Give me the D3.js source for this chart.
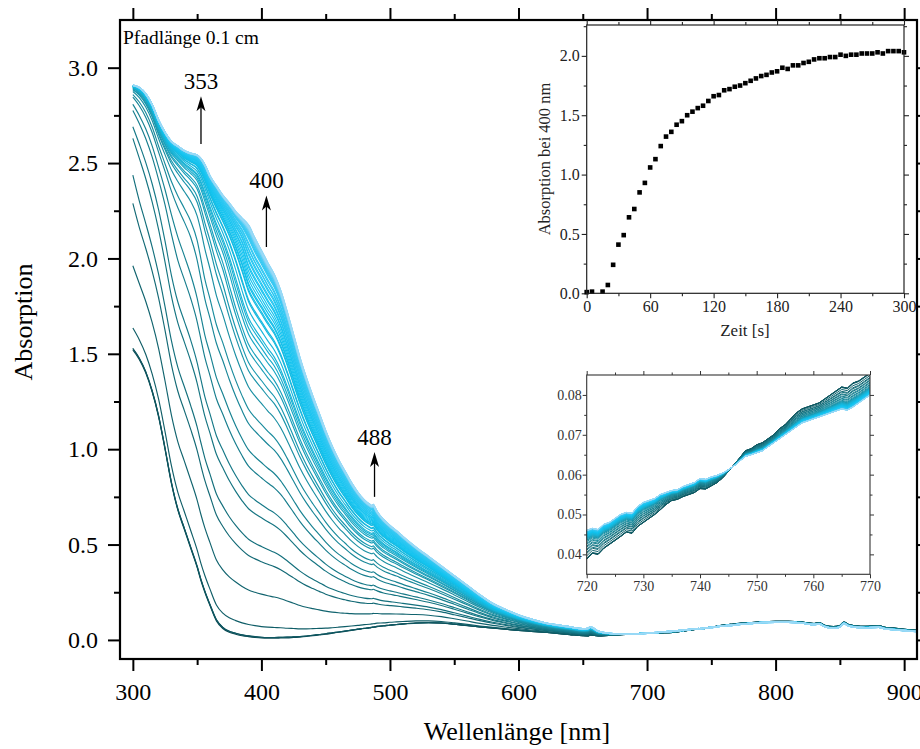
<!DOCTYPE html>
<html>
<head>
<meta charset="utf-8">
<script src="https://cdn.jsdelivr.net/npm/d3@7"></script>
<style>
  html, body { margin: 0; padding: 0; background: #fff; }
  svg { display: block; font-family: "Liberation Serif", "Times New Roman", serif; }
</style>
</head>
<body>
<svg id="chart" width="920" height="749"></svg>
<script>
// ---------------- data ----------------
// wavelength grid of the recorded spectra [nm]
const wavelengths = [
  300,305,310,315,320,325,330,335,340,345,350,353,356,360,365,370,375,380,385,390,395,400,
  405,410,415,420,425,430,435,440,445,450,455,460,465,470,475,480,
  484,486,487,488,490,495,500,505,510,
  520,530,540,550,560,570,580,590,600,610,620,630,640,650,
  654,656,658,662,670,680,690,700,710,
  720,721,722,723,724,725,726,727,728,729,730,731,732,733,734,735,736,737,738,739,
  740,741,742,743,744,745,746,747,748,749,750,751,752,753,754,755,756,757,758,759,
  760,761,762,763,764,765,766,767,768,769,770,
  780,790,800,810,820,830,834,838,845,850,853,857,862,870,880,885,890,900,910
];

// absorbance at t = 0 s
const absStart = [
  1.52,1.47,1.40,1.30,1.17,1.00,0.82,0.68,0.58,0.48,0.38,0.31,0.25,0.18,0.10,0.06,0.04,0.03,0.022,0.017,0.013,0.010,
  0.009,0.009,0.010,0.011,0.013,0.015,0.018,0.022,0.026,0.030,0.035,0.040,0.045,0.050,0.055,0.060,
  0.063,0.065,0.066,0.067,0.070,0.073,0.077,0.080,0.083,
  0.088,0.090,0.088,0.082,0.075,0.068,0.062,0.056,0.050,0.045,0.040,0.034,0.028,0.022,
  0.021,0.026,0.024,0.021,0.024,0.028,0.032,0.035,0.037,
  0.0388,0.0403,0.0400,0.0415,0.0425,0.0435,0.0445,0.0456,0.0453,0.0470,
  0.0480,0.0490,0.0500,0.0512,0.0525,0.0535,0.0538,0.0545,0.0550,0.0555,
  0.0565,0.0564,0.0572,0.0580,0.0592,0.0608,0.0625,0.0642,0.0660,0.0665,
  0.0675,0.0680,0.0690,0.0700,0.0715,0.0725,0.0740,0.0755,0.0765,0.0770,
  0.0775,0.0780,0.0790,0.0800,0.0810,0.0820,0.0817,0.0830,0.0835,0.0845,0.0855,
  0.090,0.095,0.097,0.097,0.094,0.086,0.090,0.077,0.070,0.075,0.093,0.080,0.074,0.071,0.075,0.066,0.063,0.056,0.050
];

// absorbance of the fully converted sample (before detector limit)
const absProduct = [
  5.40,4.97,4.70,4.50,4.32,4.15,3.97,3.83,3.73,3.63,3.48,3.35,3.21,3.08,2.90,2.76,2.59,2.43,2.29,2.167,2.093,2.03,
  1.965,1.905,1.82,1.71,1.59,1.47,1.365,1.27,1.18,1.09,1.01,0.94,0.88,0.82,0.77,0.73,
  0.708,0.700,0.706,0.695,0.670,0.628,0.597,0.570,0.540,
  0.485,0.435,0.385,0.335,0.285,0.235,0.190,0.158,0.130,0.108,0.090,0.078,0.068,0.058,
  0.060,0.068,0.062,0.045,0.035,0.030,0.031,0.035,0.040,
  0.0460,0.0465,0.0462,0.0475,0.0480,0.0490,0.0500,0.0505,0.0503,0.0520,
  0.0530,0.0535,0.0540,0.0550,0.0555,0.0560,0.0562,0.0570,0.0575,0.0580,
  0.0590,0.0588,0.0594,0.0598,0.0604,0.0612,0.0622,0.0634,0.0646,0.0650,
  0.0655,0.0660,0.0670,0.0680,0.0690,0.0700,0.0710,0.0720,0.0730,0.0735,
  0.0740,0.0745,0.0750,0.0755,0.0760,0.0765,0.0762,0.0770,0.0780,0.0790,0.0800,
  0.086,0.091,0.093,0.093,0.089,0.080,0.084,0.070,0.061,0.068,0.086,0.073,0.067,0.064,0.067,0.058,0.055,0.049,0.044
];

// highest readable absorbance of the photometer for 300–400 nm (first 22 grid points)
const detectorLimitUV = [
  2.91,2.90,2.87,2.815,2.735,2.674,2.63,2.61,2.59,2.58,2.58,2.57,2.55,2.50,2.47,2.44,2.44,2.45,2.50,2.65,2.80,3.20
];

// kinetics: time [s] and absorbance at 400 nm
const times = [0,5,15,20,25,30,35,40,45,50,55,60,65,70,75,80,85,90,95,100,105,110,115,120,125,130,135,140,145,150,
  155,160,165,170,175,180,185,190,195,200,205,210,215,220,225,230,235,240,245,250,255,260,265,270,275,280,285,290,295,300];
const abs400 = [0.01,0.014,0.014,0.07,0.24,0.41,0.49,0.64,0.71,0.85,0.93,1.06,1.13,1.24,1.32,1.36,1.42,1.45,1.50,1.53,
  1.56,1.58,1.62,1.66,1.67,1.71,1.72,1.74,1.75,1.77,1.79,1.81,1.83,1.84,1.86,1.87,1.90,1.89,1.92,1.92,
  1.94,1.95,1.97,1.98,1.98,1.99,1.99,2.01,2.00,2.01,2.01,2.02,2.02,2.02,2.03,2.02,2.04,2.04,2.04,2.03];

// tick labels
const mainXTicks = [300,400,500,600,700,800,900];
const mainYTicks = [0,0.5,1.0,1.5,2.0,2.5,3.0];
const kinXTicks = [0,60,120,180,240,300];
const kinYTicks = [0,0.5,1.0,1.5,2.0];
const zoomXTicks = [720,730,740,750,760,770];
const zoomYTicks = [0.04,0.05,0.06,0.07,0.08];

// band annotations
const bandLabels = ["353","400","488"];
const bandWl = [353,400,488];
const bandArrowFrom = [2.60,2.06,0.75];
const bandArrowTo = [2.85,2.33,0.985];

// ---------------- spectra ----------------
// readings roll off smoothly towards the photometer limit
const SOFT = 0.55;
function detector(a, limit) {
  const knee = limit - SOFT;
  return a <= knee ? a : limit - SOFT * Math.exp(-(a - knee) / SOFT);
}

const i400 = wavelengths.indexOf(400);
const s400 = absStart[i400], p400 = absProduct[i400];
const spectra = abs400.map(k => {
  const conv = (k - s400) / (p400 - s400);
  return wavelengths.map((w, j) => {
    const limit = j < detectorLimitUV.length ? detectorLimitUV[j] : Infinity;
    return { w, a: detector(absStart[j] + conv * (absProduct[j] - absStart[j]), limit) };
  });
});
const n = spectra.length;
// dark teal for the first scans, vivid cyan in the middle, pale sky blue at the end
const palette = d3.scaleLinear()
  .domain([0, 0.1, 0.22, 0.35, 0.5, 0.8, 1])
  .range(["#0b4a53", "#136f7b", "#1a8fa3", "#18b3d6", "#12c3ef", "#3fcaf4", "#9ad9f6"])
  .interpolate(d3.interpolateRgb);

const svg = d3.select("#chart");
const defs = svg.append("defs");

function styleAxis(g, fontSize, color, width) {
  g.select(".domain").remove();
  g.selectAll(".tick line").attr("stroke", color).attr("stroke-width", width);
  g.selectAll(".tick text").attr("fill", color).style("font-size", fontSize + "px")
    .style("font-family", '"Liberation Serif", "Times New Roman", serif');
}

// ---------------- main plot ----------------
const x = d3.scaleLinear().domain([290, 910]).range([120, 917]);
const y = d3.scaleLinear().domain([-0.1, 3.25]).range([659, 20]);

defs.append("clipPath").attr("id", "clipMain")
  .append("rect").attr("x", 120).attr("y", 20).attr("width", 797).attr("height", 639);

const line = d3.line().x(d => x(d.w)).y(d => y(d.a)).curve(d3.curveMonotoneX);
svg.append("g").attr("clip-path", "url(#clipMain)")
  .selectAll("path").data(spectra).join("path")
  .attr("d", line)
  .attr("fill", "none")
  .attr("stroke", (d, i) => palette(i / (n - 1)))
  .attr("stroke-width", (d, i) => i > n - 10 ? 1.6 : 1.15);

// main axes
const minorX = d3.range(350, 901, 100);
const minorY = [0.25, 0.75, 1.25, 1.75, 2.25, 2.75];
const gB = svg.append("g").attr("transform", "translate(0,659)");
gB.append("g").call(d3.axisBottom(x).tickValues(mainXTicks).tickSize(12).tickPadding(12).tickFormat(d3.format("d")))
  .call(g => styleAxis(g, 24, "#000", 2));
gB.append("g").call(d3.axisBottom(x).tickValues(minorX).tickSize(6).tickFormat(""))
  .call(g => styleAxis(g, 24, "#000", 2));
const gT = svg.append("g").attr("transform", "translate(0,20)");
gT.append("g").call(d3.axisTop(x).tickValues(mainXTicks).tickSize(12).tickFormat(""))
  .call(g => styleAxis(g, 24, "#000", 2));
gT.append("g").call(d3.axisTop(x).tickValues(minorX).tickSize(6).tickFormat(""))
  .call(g => styleAxis(g, 24, "#000", 2));
const gL = svg.append("g").attr("transform", "translate(120,0)");
gL.append("g").call(d3.axisLeft(y).tickValues(mainYTicks).tickSize(12).tickPadding(10).tickFormat(d3.format(".1f")))
  .call(g => styleAxis(g, 24, "#000", 2));
gL.append("g").call(d3.axisLeft(y).tickValues(minorY).tickSize(6).tickFormat(""))
  .call(g => styleAxis(g, 24, "#000", 2));
const gR = svg.append("g").attr("transform", "translate(917,0)");
gR.append("g").call(d3.axisRight(y).tickValues(mainYTicks).tickSize(12).tickFormat(""))
  .call(g => styleAxis(g, 24, "#000", 2));
gR.append("g").call(d3.axisRight(y).tickValues(minorY).tickSize(6).tickFormat(""))
  .call(g => styleAxis(g, 24, "#000", 2));

svg.append("rect").attr("x", 120).attr("y", 20).attr("width", 797).attr("height", 639)
  .attr("fill", "none").attr("stroke", "#000").attr("stroke-width", 2.2);

svg.append("text").attr("x", 123).attr("y", 44).style("font-size", "19.5px").text("Pfadlänge 0.1 cm");

svg.append("text").attr("transform", "translate(32,322) rotate(-90)").attr("text-anchor", "middle")
  .style("font-size", "26px").text("Absorption");
svg.append("text").attr("x", 517).attr("y", 740).attr("text-anchor", "middle")
  .style("font-size", "26px").text("Wellenlänge [nm]");

// band arrows
bandWl.forEach((w, i) => {
  const xa = x(w) + (w === 400 ? 5 : 0);
  const yTip = y(bandArrowTo[i]);
  svg.append("line").attr("x1", xa).attr("x2", xa)
    .attr("y1", y(bandArrowFrom[i])).attr("y2", yTip + 9)
    .attr("stroke", "#000").attr("stroke-width", 1.3);
  svg.append("path").attr("transform", `translate(${xa},${yTip})`)
    .attr("d", "M0,0 L-4.5,15 L0,11 L4.5,15 Z").attr("fill", "#000");
  svg.append("text").attr("x", xa).attr("y", yTip - 7).attr("text-anchor", "middle")
    .style("font-size", "23px").text(bandLabels[i]);
});

// ---------------- inset: kinetics at 400 nm ----------------
const xk = d3.scaleLinear().domain([0, 300]).range([586.7, 904]);
const yk = d3.scaleLinear().domain([0, 2.26]).range([293.3, 25]);
const inkK = "#222";
svg.append("rect").attr("x", 586.7).attr("y", 25).attr("width", 904 - 586.7).attr("height", 268.3)
  .attr("fill", "#fff");
const kB = svg.append("g").attr("transform", "translate(0,293.3)");
kB.append("g").call(d3.axisBottom(xk).tickValues(kinXTicks).tickSize(5).tickPadding(2).tickFormat(d3.format("d")))
  .call(g => styleAxis(g, 16, inkK, 1.1));
kB.append("g").call(d3.axisBottom(xk).tickValues(d3.range(30, 300, 60)).tickSize(3).tickFormat(""))
  .call(g => styleAxis(g, 16, inkK, 1.1));
const kT = svg.append("g").attr("transform", "translate(0,25)");
kT.append("g").call(d3.axisTop(xk).tickValues(kinXTicks).tickSize(5).tickFormat(""))
  .call(g => styleAxis(g, 16, inkK, 1.1));
kT.append("g").call(d3.axisTop(xk).tickValues(d3.range(30, 300, 60)).tickSize(3).tickFormat(""))
  .call(g => styleAxis(g, 16, inkK, 1.1));
const kL = svg.append("g").attr("transform", "translate(586.7,0)");
kL.append("g").call(d3.axisLeft(yk).tickValues(kinYTicks).tickSize(5).tickPadding(2).tickFormat(d3.format(".1f")))
  .call(g => styleAxis(g, 16, inkK, 1.1));
kL.append("g").call(d3.axisLeft(yk).tickValues([0.25, 0.75, 1.25, 1.75, 2.25]).tickSize(3).tickFormat(""))
  .call(g => styleAxis(g, 16, inkK, 1.1));
const kR = svg.append("g").attr("transform", "translate(904,0)");
kR.append("g").call(d3.axisRight(yk).tickValues(kinYTicks).tickSize(5).tickFormat(""))
  .call(g => styleAxis(g, 16, inkK, 1.1));
kR.append("g").call(d3.axisRight(yk).tickValues([0.25, 0.75, 1.25, 1.75, 2.25]).tickSize(3).tickFormat(""))
  .call(g => styleAxis(g, 16, inkK, 1.1));

svg.append("g").selectAll("rect").data(times).join("rect")
  .attr("x", (d) => xk(d) - 2.3)
  .attr("y", (d, i) => yk(abs400[i]) - 2.3)
  .attr("width", 4.6).attr("height", 4.6).attr("fill", "#000");

svg.append("rect").attr("x", 586.7).attr("y", 25).attr("width", 904 - 586.7).attr("height", 268.3)
  .attr("fill", "none").attr("stroke", inkK).attr("stroke-width", 1.2);
svg.append("text").attr("x", 745).attr("y", 336).attr("text-anchor", "middle").attr("fill", inkK)
  .style("font-size", "17px").text("Zeit [s]");
svg.append("text").attr("transform", "translate(550,159) rotate(-90)").attr("text-anchor", "middle")
  .attr("fill", inkK).style("font-size", "16.5px").text("Absorption bei 400 nm");

// ---------------- inset: 720–770 nm detail ----------------
const xz = d3.scaleLinear().domain([720, 770]).range([586.7, 870]);
const yz = d3.scaleLinear().domain([0.035, 0.085]).range([574.3, 375]);
const inkZ = "#333";
svg.append("rect").attr("x", 586.7).attr("y", 375).attr("width", 870 - 586.7).attr("height", 199.3)
  .attr("fill", "#fff");
defs.append("clipPath").attr("id", "clipZoom")
  .append("rect").attr("x", 586.7).attr("y", 375).attr("width", 870 - 586.7).attr("height", 199.3);
const lineZ = d3.line().x(d => xz(d.w)).y(d => yz(d.a));
svg.append("g").attr("clip-path", "url(#clipZoom)")
  .selectAll("path").data(spectra.map(s => s.filter(p => p.w >= 710 && p.w <= 780))).join("path")
  .attr("d", lineZ).attr("fill", "none")
  .attr("stroke", (d, i) => palette(i / (n - 1)))
  .attr("stroke-width", 1);

const zB = svg.append("g").attr("transform", "translate(0,574.3)");
zB.append("g").call(d3.axisBottom(xz).tickValues(zoomXTicks).tickSize(4).tickPadding(3).tickFormat(d3.format("d")))
  .call(g => styleAxis(g, 14, inkZ, 1));
zB.append("g").call(d3.axisBottom(xz).tickValues(d3.range(725, 770, 10)).tickSize(2.5).tickFormat(""))
  .call(g => styleAxis(g, 14, inkZ, 1));
const zT = svg.append("g").attr("transform", "translate(0,375)");
zT.append("g").call(d3.axisTop(xz).tickValues(zoomXTicks).tickSize(4).tickFormat(""))
  .call(g => styleAxis(g, 14, inkZ, 1));
zT.append("g").call(d3.axisTop(xz).tickValues(d3.range(725, 770, 10)).tickSize(2.5).tickFormat(""))
  .call(g => styleAxis(g, 14, inkZ, 1));
const zL = svg.append("g").attr("transform", "translate(586.7,0)");
zL.append("g").call(d3.axisLeft(yz).tickValues(zoomYTicks).tickSize(4).tickPadding(1).tickFormat(d3.format(".2f")))
  .call(g => styleAxis(g, 14, inkZ, 1));
zL.append("g").call(d3.axisLeft(yz).tickValues([0.045, 0.055, 0.065, 0.075]).tickSize(2.5).tickFormat(""))
  .call(g => styleAxis(g, 14, inkZ, 1));
const zR = svg.append("g").attr("transform", "translate(870,0)");
zR.append("g").call(d3.axisRight(yz).tickValues(zoomYTicks).tickSize(4).tickFormat(""))
  .call(g => styleAxis(g, 14, inkZ, 1));
zR.append("g").call(d3.axisRight(yz).tickValues([0.045, 0.055, 0.065, 0.075]).tickSize(2.5).tickFormat(""))
  .call(g => styleAxis(g, 14, inkZ, 1));
svg.append("rect").attr("x", 586.7).attr("y", 375).attr("width", 870 - 586.7).attr("height", 199.3)
  .attr("fill", "none").attr("stroke", inkZ).attr("stroke-width", 1.1);
</script>
</body>
</html>
